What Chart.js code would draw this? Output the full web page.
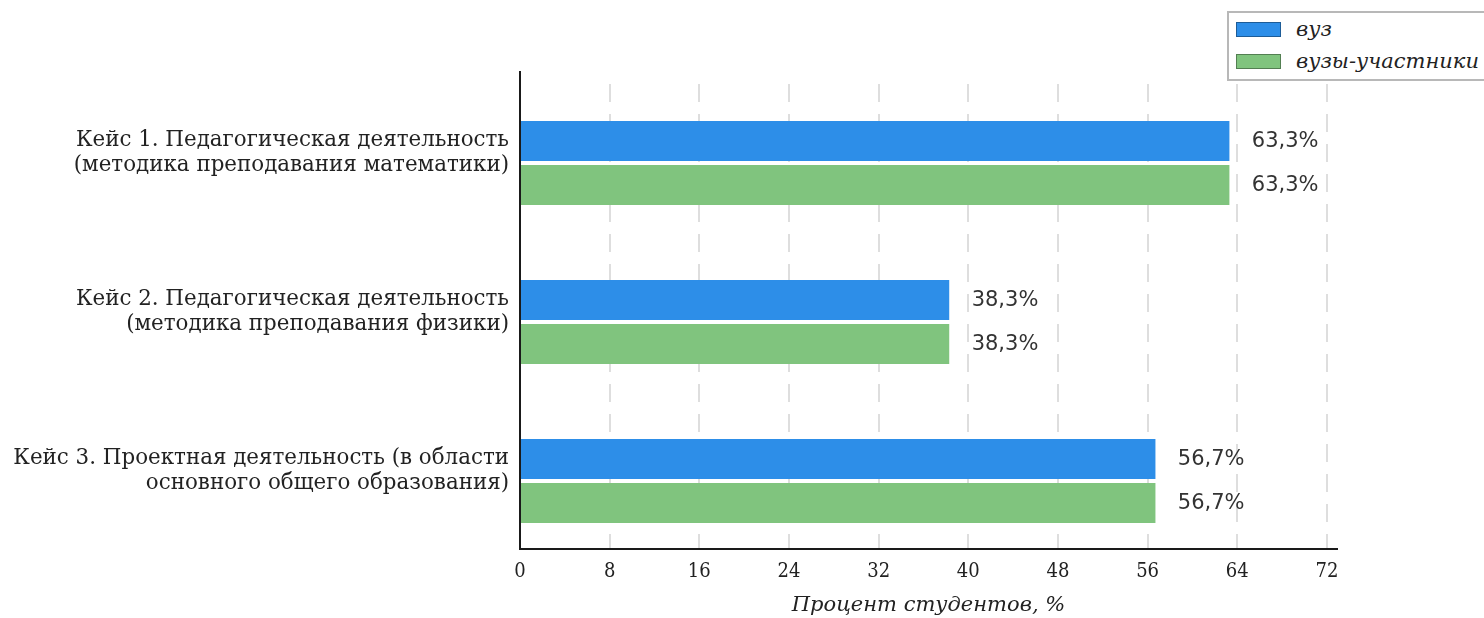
<!DOCTYPE html>
<html>
<head>
<meta charset="utf-8">
<script src="https://cdn.jsdelivr.net/npm/chart.js@4.4.1/dist/chart.umd.min.js"></script>
<style>
  html, body { margin: 0; padding: 0; background: #fff; }
  #wrap { position: relative; width: 1484px; height: 618px; overflow: hidden; }
  #legend { position: absolute; left: 1227px; top: 11px; width: 270px; height: 70px;
            border: 2px solid #b8b8b8; background: #fff; box-sizing: border-box; }
  .item { position: absolute; left: 7px; height: 20px; display: flex; align-items: center;
          font-family: "DejaVu Serif", serif; font-style: italic; font-size: 21px; color: #222; white-space: nowrap; }
  .sw { width: 45px; height: 15px; margin-right: 15px; box-sizing: border-box; border: 1px solid rgba(0,0,0,0.35); }
</style>
</head>
<body>
<div id="wrap">
  <canvas id="c" width="1484" height="618"></canvas>
  <div id="legend"></div>
</div>
<script>
const categories = [
  ["Кейс 1. Педагогическая деятельность", "(методика преподавания математики)"],
  ["Кейс 2. Педагогическая деятельность", "(методика преподавания физики)"],
  ["Кейс 3. Проектная деятельность (в области", "основного общего образования)"]
];
const seriesNames = ["вуз", "вузы-участники"];
const vuzValues = [63.3, 38.3, 56.7];
const participantValues = [63.3, 38.3, 56.7];
const xTicks = [0, 8, 16, 24, 32, 40, 48, 56, 64, 72];
const axisTitle = "Процент студентов, %";

const colors = ["#2d8ee8", "#80c47e"];

function toPoints(vals) { return vals.map((v, i) => ({ x: v, y: i })); }

const valueLabels = {
  id: 'valueLabels',
  afterDatasetsDraw(chart) {
    const ctx = chart.ctx;
    const xs = chart.scales.x;
    ctx.save();
    ctx.font = '21px "DejaVu Sans", sans-serif';
    ctx.fillStyle = '#333';
    ctx.textAlign = 'left';
    ctx.textBaseline = 'middle';
    chart.data.datasets.forEach((ds, di) => {
      const meta = chart.getDatasetMeta(di);
      meta.data.forEach((bar, i) => {
        const v = ds.data[i].x;
        const txt = v.toFixed(1).replace('.', ',') + '%';
        const px = xs.getPixelForValue(v + 2);
        ctx.fillText(txt, px, bar.y + 1);
      });
    });
    ctx.restore();
  }
};

const chart = new Chart(document.getElementById('c'), {
  type: 'bar',
  data: {
    datasets: [
      { label: seriesNames[0], data: toPoints(vuzValues), backgroundColor: colors[0] },
      { label: seriesNames[1], data: toPoints(participantValues), backgroundColor: colors[1] }
    ]
  },
  options: {
    indexAxis: 'y',
    responsive: false,
    animation: false,
    categoryPercentage: 88 / 159,
    barPercentage: 40 / 44,
    layout: { padding: { top: 72, right: 147, left: 0, bottom: 0 } },
    plugins: { legend: { display: false }, tooltip: { enabled: false } },
    scales: {
      y: {
        type: 'linear',
        reverse: true,
        offset: false,
        min: -0.572,
        max: 2.428,
        afterBuildTicks(scale) { scale.ticks = categories.map((c, i) => ({ value: i })); },
        afterFit(scale) { scale.width = 520; },
        grid: { display: false, drawTicks: false, offset: false },
        border: { display: true, color: '#1a1a1a', width: 2 },
        ticks: {
          padding: 11,
          labelOffset: -10,
          color: '#222',
          font: { family: '"DejaVu Serif", serif', size: 21.4, lineHeight: 1.13 },
          callback: (v) => categories[v]
        }
      },
      x: {
        type: 'linear',
        min: 0,
        max: 72.9,
        afterBuildTicks(scale) { scale.ticks = xTicks.map(v => ({ value: v })); },
        afterFit(scale) { scale.height = 69; },
        grid: { color: '#dedede', lineWidth: 2, drawTicks: false },
        border: { display: true, color: '#1a1a1a', width: 2, dash: [18, 12], dashOffset: 18 },
        ticks: {
          padding: 11,
          color: '#222',
          font: { family: '"DejaVu Serif Condensed", "Liberation Serif", serif', size: 20 },
          maxRotation: 0,
          callback: (v) => String(v)
        },
        title: {
          display: true,
          text: axisTitle,
          color: '#222',
          padding: { top: 6, bottom: 0 },
          font: { family: '"DejaVu Serif", serif', size: 21, style: 'italic' }
        }
      }
    }
  },
  plugins: [valueLabels]
});

const lg = document.getElementById('legend');
chart.data.datasets.forEach((ds, i) => {
  const it = document.createElement('div');
  it.className = 'item';
  it.style.top = (i === 0 ? 6 : 38) + 'px';
  const sw = document.createElement('span');
  sw.className = 'sw';
  sw.style.background = ds.backgroundColor;
  const tx = document.createElement('span');
  tx.textContent = ds.label;
  it.appendChild(sw); it.appendChild(tx);
  lg.appendChild(it);
});
</script>
</body>
</html>
